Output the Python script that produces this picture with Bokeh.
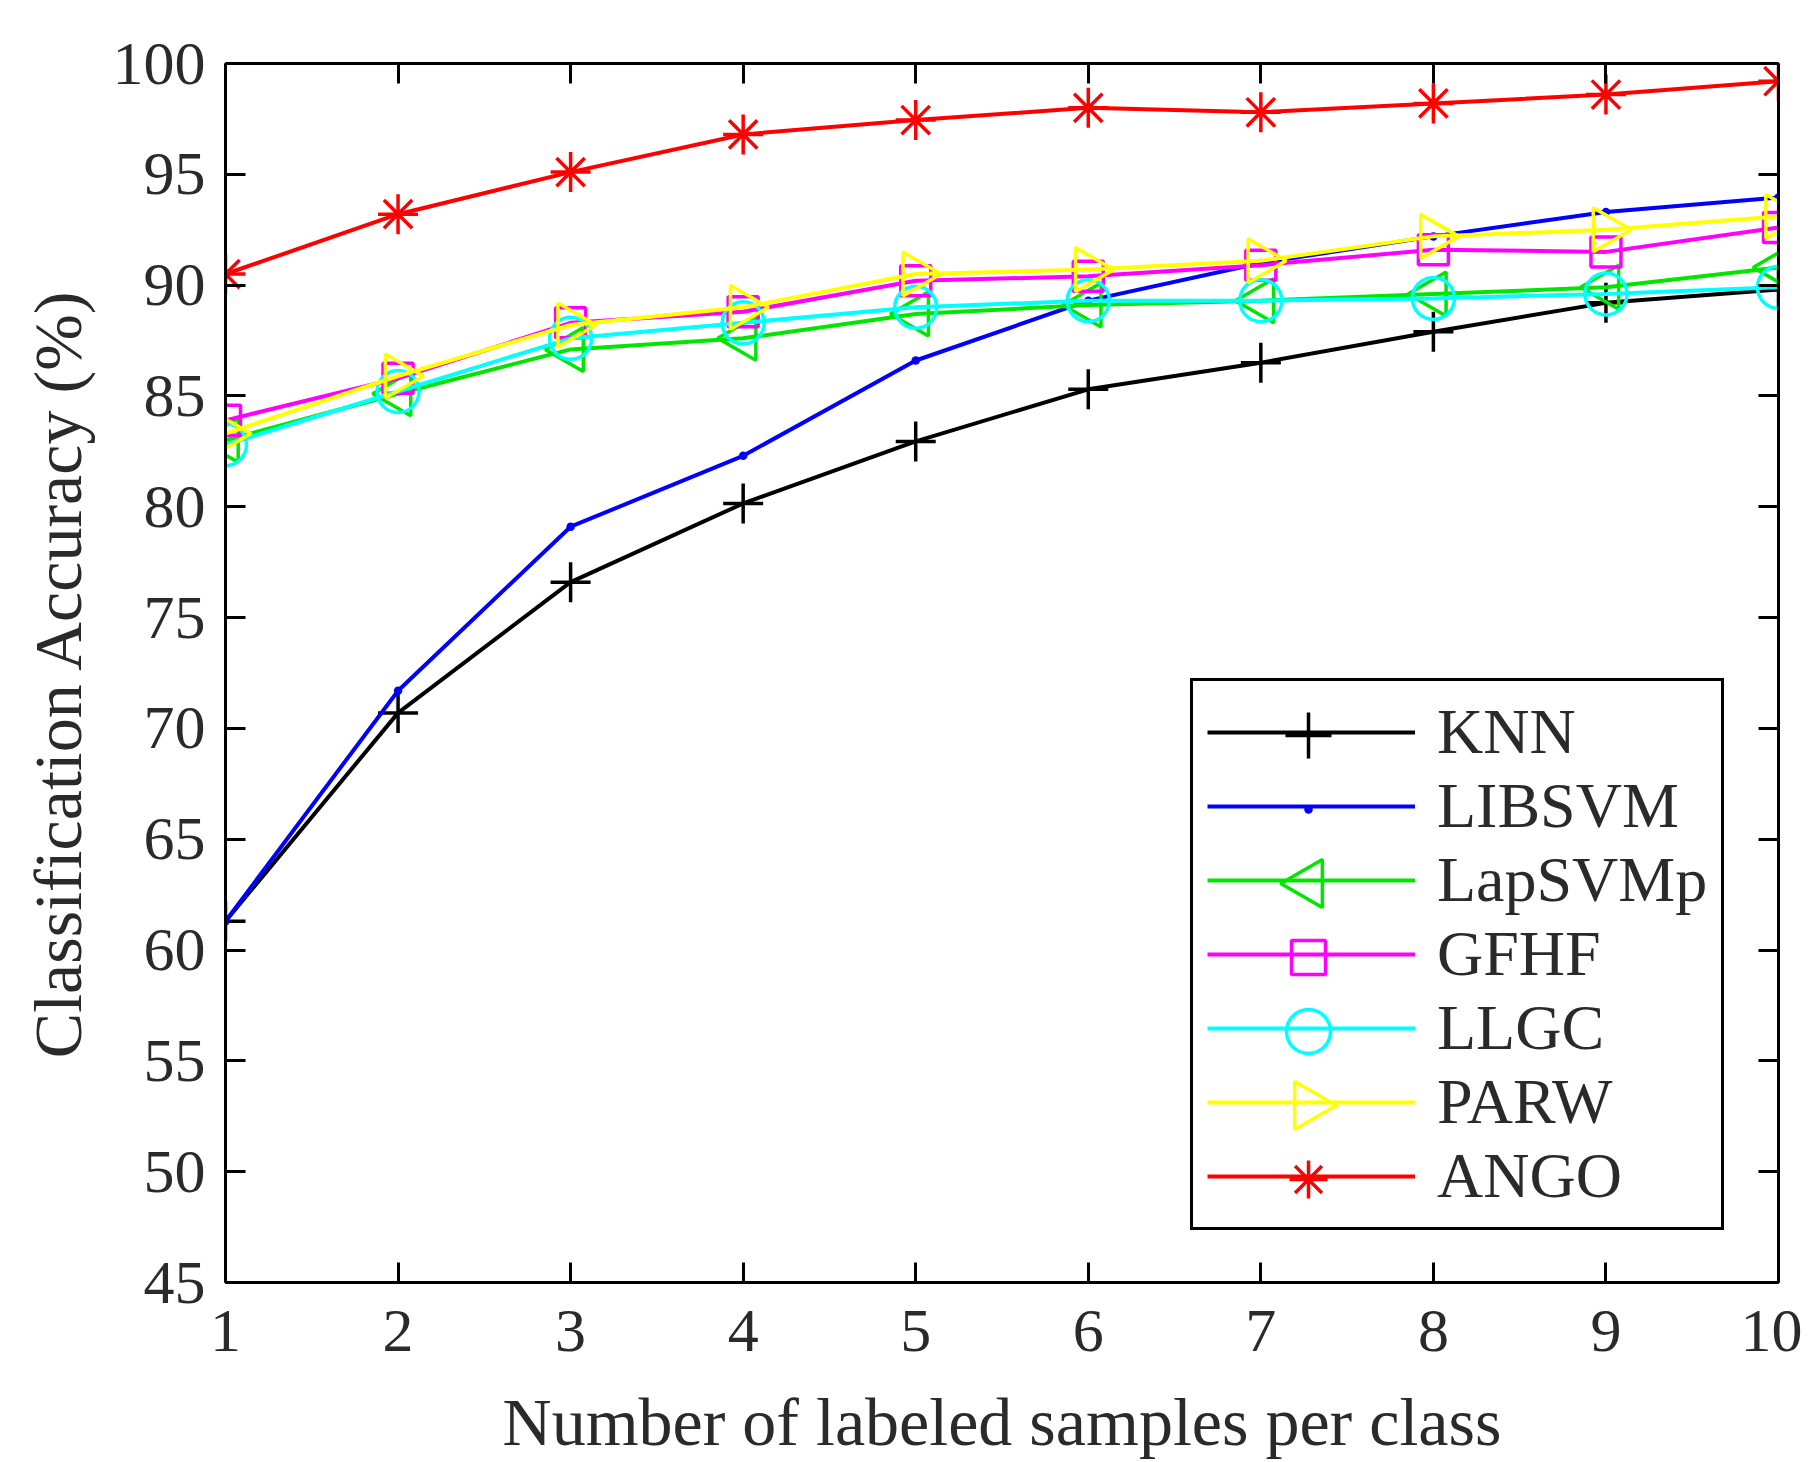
import math
from bokeh.plotting import figure
from bokeh.models import LinearAxis, Legend, LegendItem, FixedTicker, Range1d
from bokeh.embed import file_html
from bokeh.resources import INLINE

samples = [1, 2, 3, 4, 5, 6, 7, 8, 9, 10]
knn = [61.3, 70.7, 76.6, 80.15, 82.95, 85.3, 86.5, 87.9, 89.2, 89.8]
libsvm = [61.3, 71.7, 79.1, 82.3, 86.6, 89.3, 91.0, 92.2, 93.3, 93.95]
lapsvmp = [83.0, 85.1, 87.1, 87.6, 88.7, 89.1, 89.3, 89.6, 89.9, 90.8]
gfhf = [83.9, 85.8, 88.3, 88.8, 90.2, 90.4, 90.9, 91.6, 91.5, 92.6]
llgc = [82.8, 85.2, 87.6, 88.3, 89.0, 89.3, 89.3, 89.4, 89.6, 89.9]
parw = [83.3, 85.9, 88.2, 89.0, 90.5, 90.7, 91.1, 92.2, 92.5, 93.1]
ango = [90.5, 93.2, 95.1, 96.8, 97.45, 98.0, 97.8, 98.2, 98.6, 99.2]

y_ticks = [45, 50, 55, 60, 65, 70, 75, 80, 85, 90, 95, 100]
x_ticks = samples
X0, X1, Y0, Y1 = 1, 10, 45, 100

# name, values, colour, marker, angle, plot size, legend size
series = [
    ("KNN", knn, "#000000", "cross", 0.0, 40, 46),
    ("LIBSVM", libsvm, "#0000ff", "dot", 0.0, 34, 34),
    ("LapSVMp", lapsvmp, "#00e600", "triangle", math.pi / 2, 44, 48),
    ("GFHF", gfhf, "#ff00ff", "square", 0.0, 30, 34),
    ("LLGC", llgc, "#00ffff", "circle", 0.0, 42, 44),
    ("PARW", parw, "#ffff00", "triangle", -math.pi / 2, 44, 48),
    ("ANGO", ango, "#ff0000", "asterisk", 0.0, 40, 38),
]

FONT = "Liberation Serif"
TXT = "#2a2a2a"

FW, FH = 1553, 1219   # frame size in px
p = figure(frame_width=FW, frame_height=FH, output_backend="svg", toolbar_location=None,
           x_range=Range1d(X0, X1), y_range=Range1d(Y0, Y1),
           min_border_left=225, min_border_right=24, min_border_top=63, min_border_bottom=176)
p.grid.visible = False
p.outline_line_color = None

for ax in (p.xaxis[0], p.yaxis[0]):
    ax.axis_line_width = 3
    ax.axis_line_color = "black"
    ax.major_tick_in = 20
    ax.major_tick_out = 0
    ax.major_tick_line_width = 3
    ax.minor_tick_line_color = None
    ax.major_label_text_font = FONT
    ax.major_label_text_font_size = "62px"
    ax.major_label_text_color = TXT
    ax.axis_label_text_font = FONT
    ax.axis_label_text_font_style = "normal"
    ax.axis_label_text_color = TXT

p.xaxis[0].ticker = FixedTicker(ticks=x_ticks)
p.yaxis[0].ticker = FixedTicker(ticks=y_ticks)
p.xaxis[0].axis_label = "Number of labeled samples per class"
p.yaxis[0].axis_label = "Classification Accuracy (%)"
p.xaxis[0].axis_label_text_font_size = "68px"
p.yaxis[0].axis_label_text_font_size = "68px"
p.xaxis[0].major_label_standoff = 28
p.yaxis[0].major_label_standoff = 20
p.xaxis[0].axis_label_standoff = 30
p.yaxis[0].axis_label_standoff = 14

top = LinearAxis(ticker=FixedTicker(ticks=x_ticks))
right = LinearAxis(ticker=FixedTicker(ticks=y_ticks))
for ax in (top, right):
    ax.axis_line_width = 3
    ax.axis_line_color = "black"
    ax.major_tick_in = 20
    ax.major_tick_out = 0
    ax.major_tick_line_width = 3
    ax.minor_tick_line_color = None
    ax.major_label_text_font_size = "0px"
    ax.major_label_text_color = None
p.add_layout(top, "above")
p.add_layout(right, "right")

# legend geometry (screen px, relative to the frame's bottom-left corner)
LX, LY, PAD, GW, GH, N = 965, 52, 14, 208, 74, len(series)

items = []
for i, (name, vals, color, marker, ang, size, lsize) in enumerate(series):
    l = p.line(samples, vals, line_color=color, line_width=4)
    if marker == "dot":
        p.scatter(samples, vals, marker="dot", size=size, line_color=color, fill_color=color)
    else:
        p.scatter(samples, vals, marker=marker, size=size, angle=ang,
                  line_color=color, line_width=3.5, fill_color=None)
    items.append(LegendItem(label=name, renderers=[l]))
    # legend marker, placed at the centre of its legend row
    cx = LX + PAD + GW / 2
    cy = LY + PAD + (N - i - 0.5) * GH
    mx = X0 + cx * (X1 - X0) / FW
    my = Y0 + cy * (Y1 - Y0) / FH
    if marker == "dot":
        p.scatter([mx], [my], marker="dot", size=lsize, line_color=color, fill_color=color)
    else:
        p.scatter([mx], [my], marker=marker, size=lsize, angle=ang, line_color=color,
                  line_width=3.5, fill_color=None)

legend = Legend(items=items, location=(LX, LY))
legend.label_text_font = FONT
legend.label_text_font_size = "64px"
legend.label_text_color = TXT
legend.glyph_width = GW
legend.glyph_height = GH
legend.label_height = GH
legend.spacing = 0
legend.padding = PAD
legend.margin = 0
legend.label_standoff = 22
legend.border_line_color = "black"
legend.border_line_width = 3
legend.border_line_alpha = 1.0
legend.background_fill_alpha = 0.0
p.add_layout(legend, "center")

open("out.html", "w").write(file_html(p, INLINE))
